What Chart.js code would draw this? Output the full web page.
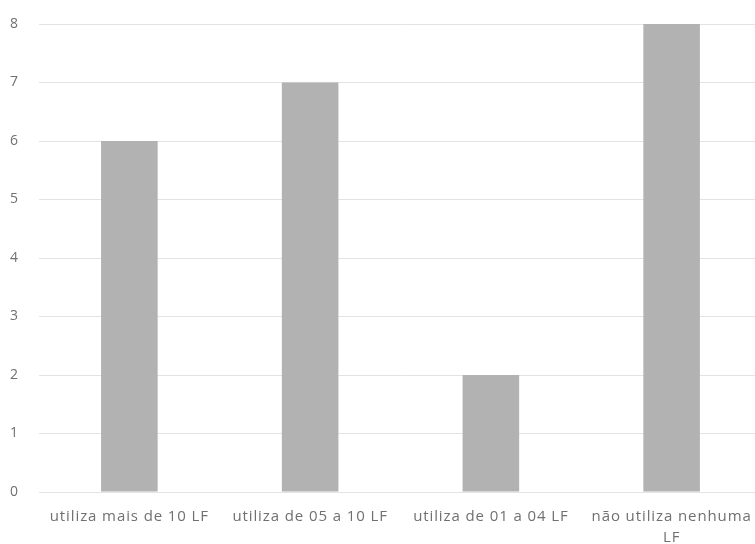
<!DOCTYPE html>
<html><head><meta charset="utf-8">
<script src="https://cdn.jsdelivr.net/npm/chart.js@4.4.0/dist/chart.umd.min.js"></script>
<style>
html,body{margin:0;padding:0;background:#fff;overflow:hidden}
#wrap{width:755px;height:544px;overflow:hidden;position:relative}
#box{position:absolute;left:0;top:0;width:780px;height:544px}
</style></head>
<body>
<div id="wrap"><div id="box"><canvas id="c"></canvas></div></div>
<script>
const categories = [
  "utiliza mais de 10 LF",
  "utiliza de 05 a 10 LF",
  "utiliza de 01 a 04 LF",
  ["não utiliza nenhuma", "LF"]
];
const values = [6, 7, 2, 8];
const yTicks = [0, 1, 2, 3, 4, 5, 6, 7, 8];

const spacing = {
  id: 'spacing',
  beforeDraw(chart) { chart.ctx.letterSpacing = '0.9px'; }
};

new Chart(document.getElementById('c'), {
  type: 'bar',
  data: {
    labels: categories,
    datasets: [{
      data: values,
      backgroundColor: '#b2b2b2',
      borderWidth: 0,
      barPercentage: 1,
      categoryPercentage: 0.313
    }]
  },
  plugins: [spacing],
  options: {
    responsive: true,
    maintainAspectRatio: false,
    animation: false,
    layout: { padding: { left: 0, right: 18, top: 24, bottom: 0 } },
    plugins: { legend: { display: false }, tooltip: { enabled: false } },
    scales: {
      x: {
        grid: { display: false, drawTicks: false },
        border: { display: false },
        afterFit: (s) => { s.height = 52; },
        ticks: {
          color: '#707070',
          font: { family: 'Open Sans', size: 15, lineHeight: 1.35 },
          padding: 15,
          maxRotation: 0,
          autoSkip: false
        }
      },
      y: {
        min: 0, max: 8,
        afterBuildTicks: (s) => { s.ticks = yTicks.map(v => ({ value: v })); },
        afterFit: (s) => { s.width = 39; s.paddingTop = 0; },
        grid: { color: '#e3e3e3', lineWidth: 1, drawTicks: false },
        border: { display: false },
        ticks: {
          color: '#707070',
          font: { family: 'Open Sans', size: 14, lineHeight: 1 },
          padding: 20
        }
      }
    }
  }
});
</script>
</body></html>
